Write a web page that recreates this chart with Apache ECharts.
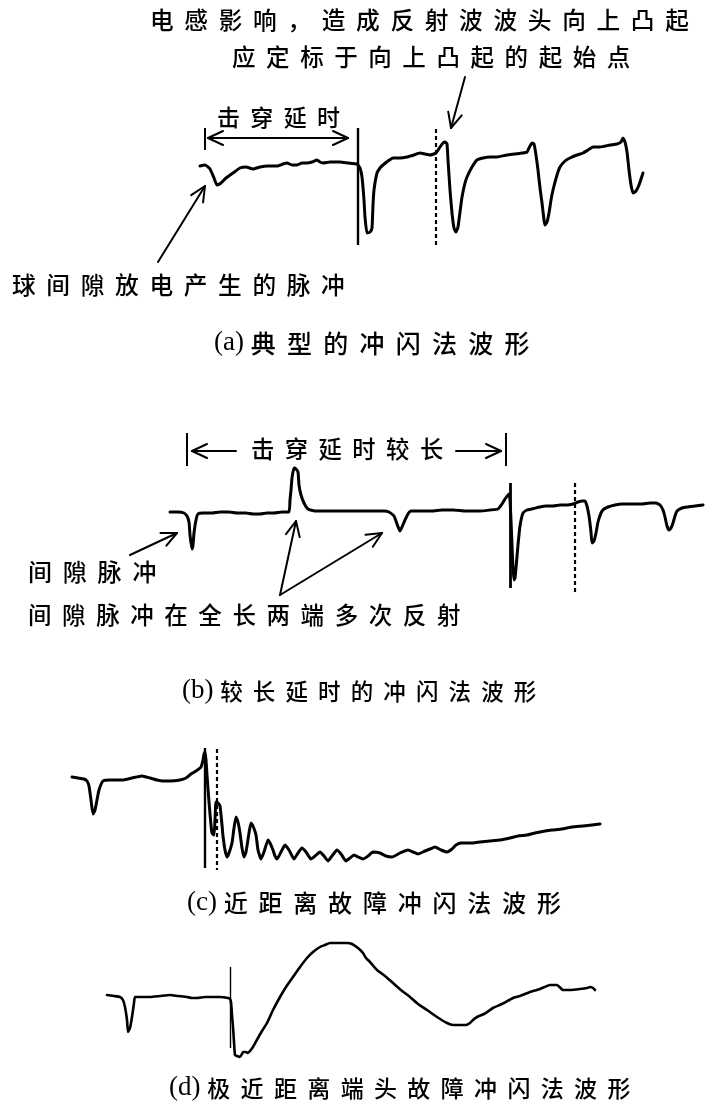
<!DOCTYPE html>
<html><head><meta charset="utf-8">
<script src="https://cdn.jsdelivr.net/npm/echarts@6/dist/echarts.min.js"></script>
<style>html,body{margin:0;padding:0;background:#fff}#c{width:715px;height:1109px}</style>
</head><body><div id="c"></div>
<script>
// ---- Panel (a): typical impulse-flash waveform (time, amplitude) ----
const tA = [200,205,210,214,217,221,226,233,240,246,253,260,268,277,283,287,292,297,302,307,312,317,320,323,330,340,348,357,360,362,364,365,367,370,372,373,374,377,380,383,388,393,400,407,414,420,425,430,436,440,443,445,447,448,450,452,454,456,458,460,462,465,467,472,477,483,490,497,507,515,522,527,530,532,534,536,538,540,542,544,545,547,549,551,553,557,560,565,570,577,583,588,593,600,610,617,621,623,625,627,629,631,633,636,639,643];
const vA = [-1,0,-4,-13,-20,-18,-13,-8,-3,-2,-4,-2,-1,-1,1,2,0,0,2,2,3,5,3,2,3,3,2,1,-3,-12,-35,-52,-68,-67,-63,-40,-25,-8,-3,0,4,7,7,8,10,12,11,10,12,18,22,23,21,5,-25,-48,-63,-67,-62,-47,-32,-18,-12,-2,5,7,8,8,10,11,12,13,19,22,21,10,-5,-23,-38,-55,-60,-57,-48,-35,-25,-10,-2,4,7,10,12,15,18,18,20,21,23,27,23,13,-5,-20,-28,-26,-20,-8];
// ---- Panel (b): long delay ----
const tB = [170,178,184,187,189,190,192,193,194,196,198,203,212,220,229,237,246,253,260,267,274,282,289,290,291,292,294,296,298,299,301,304,308,315,322,332,343,355,367,376,384,389,394,397,400,402,405,408,411,420,432,442,453,466,480,490,498,502,505,509,510,511,512,513,514,515,516,518,520,523,527,532,540,546,553,560,567,573,578,582,585,587,589,591,592,594,596,598,601,604,608,615,622,632,642,650,656,660,663,665,667,669,671,673,675,677,682,687,695,703];
const vB = [-1,-1,-2,-5,-11,-24,-38,-34,-22,-9,-3,-2,-2,-1,-1,-2,-2,-3,-3,-2,-2,-1,-1,11,21,33,43,42,39,26,16,8,2,0,0,0,0,0,0,0,0,-1,-5,-13,-20,-16,-9,-3,0,0,0,1,1,0,0,1,2,7,12,17,11,-9,-34,-57,-69,-67,-57,-34,-15,-2,1,2,4,5,5,6,6,7,9,10,10,5,-5,-21,-32,-30,-22,-11,-2,2,4,6,7,7,7,8,8,6,1,-6,-15,-19,-17,-12,-5,0,3,4,5,6];
// ---- Panel (c): near fault ----
const tC = [72,78,84,87,89,91,93,95,97,99,103,110,122,132,142,150,157,163,170,180,186,191,196,201,203,204,205,206,207,209,211,212,214,215,216,218,220,222,223,225,227,229,232,234,236,238,240,242,244,246,249,251,253,256,258,261,264,268,270,273,275,277,281,285,289,294,298,302,306,311,315,320,324,328,332,337,341,346,350,354,358,363,368,373,380,386,392,400,408,413,418,425,430,435,441,447,452,456,461,467,473,480,490,500,510,518,527,535,545,552,562,572,583,592,600];
const vC = [2,1,0,-2,-7,-21,-35,-31,-21,-11,-2,-1,-1,1,3,1,-1,-2,-2,-1,1,5,8,12,19,25,27,19,4,-23,-46,-54,-56,-41,-23,-24,-27,-46,-57,-71,-78,-74,-64,-49,-38,-43,-54,-69,-78,-73,-54,-44,-47,-56,-71,-80,-73,-61,-64,-71,-77,-80,-73,-66,-71,-80,-74,-69,-73,-80,-77,-73,-77,-82,-77,-71,-75,-82,-79,-76,-78,-80,-77,-73,-74,-77,-78,-74,-71,-73,-75,-72,-70,-68,-71,-73,-70,-66,-64,-64,-64,-63,-62,-61,-59,-57,-56,-54,-52,-51,-50,-48,-47,-46,-45];
// ---- Panel (d): very near terminal fault ----
const tD = [107,114,120,123,125,127,128,130,132,134,135,142,150,160,170,178,187,192,197,205,213,220,228,230,231,232,233,234,235,237,240,242,243,246,248,250,253,258,262,267,273,280,286,293,300,307,313,320,325,330,338,347,352,358,363,366,370,377,385,393,401,410,418,427,437,447,453,460,466,470,473,477,484,493,502,513,520,530,540,550,557,563,570,580,587,590,593,595];
const vD = [2,1,0,-3,-10,-23,-35,-31,-20,-6,0,0,0,1,2,1,0,-1,-1,0,0,0,-1,-2,-5,-18,-30,-45,-58,-59,-60,-57,-55,-55,-56,-54,-50,-41,-34,-26,-13,0,10,20,30,39,45,50,52,54,54,54,53,49,44,39,35,27,21,14,7,0,-7,-13,-20,-26,-28,-28,-28,-26,-23,-20,-17,-11,-7,-1,1,5,8,12,12,7,7,8,9,10,9,7];

// marker lines: [time, top amplitude, bottom amplitude]
const solidMarks = [[358,37,-80],[510,28,-77],[205,31,-89],[230,30,-51]];
const dashMarks  = [[436,36,-80],[575,28,-84],[217,30,-91],null];

// texts
const captionTags = ['(a)','(b)','(c)','(d)'];
const captionTexts = ['典型的冲闪法波形','较长延时的冲闪法波形','近距离故障冲闪法波形','极近距离端头故障冲闪法波形'];
const noteTexts = ['电感影响，造成反射波波头向上凸起','应定标于向上凸起的起始点','击穿延时','球间隙放电产生的脉冲','击穿延时较长','间隙脉冲','间隙脉冲在全长两端多次反射'];

const CJK = "'Noto Sans CJK SC', sans-serif";
const SERIF = "'Liberation Serif', 'DejaVu Serif', serif";
const sp = s => s.split('').join('  ');

const chart = echarts.init(document.getElementById('c'), null, {renderer:'canvas'});

const grids = [
  {left:0, top:100, width:715, height:160},
  {left:0, top:460, width:715, height:150},
  {left:0, top:740, width:715, height:140},
  {left:0, top:930, width:715, height:140}
];
const yRanges = [[-95,65],[-99,51],[-101,39],[-73,67]];
const panels = [[tA,vA],[tB,vB],[tC,vC],[tD,vD]];
const lineW = [3,3,3,2.6];
const solidW = [2.4,2.8,2.4,1.4];

const series = panels.map((p,i)=>{
  const ml = [];
  const s = solidMarks[i];
  ml.push([{coord:[s[0],s[1]], lineStyle:{type:'solid', width:solidW[i]}},{coord:[s[0],s[2]]}]);
  const d = dashMarks[i];
  if (d) ml.push([{coord:[d[0],d[1]], lineStyle:{type:[4,3], width:2.2}},{coord:[d[0],d[2]]}]);
  return {
    type:'line', xAxisIndex:i, yAxisIndex:i,
    data: p[0].map((t,k)=>[t,p[1][k]]),
    showSymbol:false, symbol:'none', smooth:0.15,
    lineStyle:{color:'#000', width:lineW[i], join:'round', cap:'round'},
    silent:true, animation:false, clip:false,
    markLine:{silent:true, symbol:['none','none'], label:{show:false}, animation:false,
      lineStyle:{color:'#000'}, data:ml}
  };
});

function arrowEls(x1,y1,x2,y2,opt){
  opt = opt||{};
  const h = opt.h||13, w = opt.w||6, lw = opt.lw||2;
  const els = [];
  const st = {stroke:'#000', lineWidth:lw, fill:'none', lineCap:'round', lineJoin:'round'};
  els.push({type:'polyline', shape:{points:[[x1,y1],[x2,y2]]}, style:st});
  const head = (ax,ay,bx,by)=>{ // head at b, coming from a
    const dx=bx-ax, dy=by-ay, L=Math.hypot(dx,dy), ux=dx/L, uy=dy/L;
    return {type:'polyline', shape:{points:[[bx-ux*h-uy*w, by-uy*h+ux*w],[bx,by],[bx-ux*h+uy*w, by-uy*h-ux*w]]}, style:st};
  };
  els.push(head(x1,y1,x2,y2));
  if (opt.both) els.push(head(x2,y2,x1,y1));
  return els;
}
function tick(x,y1,y2,lw){
  return {type:'polyline', shape:{points:[[x,y1],[x,y2]]}, style:{stroke:'#000', lineWidth:lw||2, fill:'none'}};
}
function txt(s,x,y,size){
  return {type:'text', x:x, y:y, style:{text:sp(s), font:'500 '+(size||24)+'px '+CJK, fill:'#000', align:'left', verticalAlign:'middle'}};
}
function caption(i,x,y,size){
  return {type:'text', x:x, y:y, style:{
    text:'{l|'+captionTags[i]+' }{c|'+sp(captionTexts[i])+'}',
    align:'left', verticalAlign:'middle', fill:'#000',
    rich:{l:{fontFamily:SERIF, fontSize:27, fill:'#000'}, c:{fontFamily:CJK, fontWeight:500, fontSize:size||24, fill:'#000'}}
  }};
}

const g = [];
g.push(txt(noteTexts[0],150,20,23.7));
g.push(txt(noteTexts[1],232,57,23.5));
g.push(...arrowEls(465,77,451,128,{h:15,w:7}));
g.push(txt(noteTexts[2],217,117,23));
g.push(tick(205,128,150));
g.push(...arrowEls(208,138,348,138,{both:true,h:15,w:7}));
g.push(...arrowEls(158,262,205,186,{h:15,w:7}));
g.push(txt(noteTexts[3],12,285,23.7));
g.push(caption(0,214,343,25));

g.push(tick(187,433,466));
g.push(...arrowEls(236,451,192,451,{h:15,w:7}));
g.push(txt(noteTexts[4],251,449,23.3));
g.push(...arrowEls(456,451,501,451,{h:15,w:7}));
g.push(tick(506,433,466));
g.push(...arrowEls(130,555,177,533,{h:15,w:7}));
g.push(...arrowEls(280,595,296,521,{h:15,w:7}));
g.push(...arrowEls(280,595,382,533,{h:15,w:7}));
g.push(txt(noteTexts[5],28,572));
g.push(txt(noteTexts[6],28,615,23.5));
g.push(caption(1,182,691,22.5));
g.push(caption(2,187,903,24));
g.push(caption(3,169,1088,23));

chart.setOption({
  animation:false,
  backgroundColor:'#fff',
  grid: grids,
  xAxis: grids.map((_,i)=>({type:'value', gridIndex:i, min:0, max:715, show:false})),
  yAxis: grids.map((_,i)=>({type:'value', gridIndex:i, min:yRanges[i][0], max:yRanges[i][1], show:false})),
  series: series,
  graphic: {elements: g}
});
</script></body></html>
